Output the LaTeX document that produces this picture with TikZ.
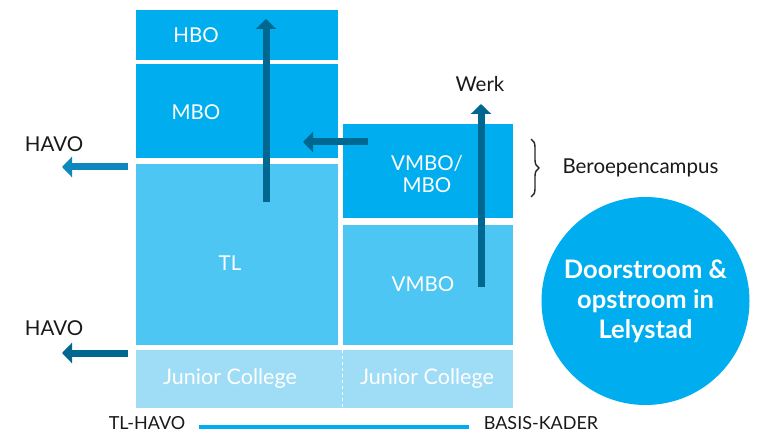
\documentclass[tikz,border=0pt]{standalone}
\usepackage{fontspec}
\setmainfont{Lato}
\usetikzlibrary{arrows.meta,
                 decorations.pathreplacing}
\definecolor{cyanbox}{HTML}{00AEEF}
\definecolor{lightbox}{HTML}{4DC6F3}
\definecolor{paleBox}{HTML}{9FDDF6}
\definecolor{darkarrow}{HTML}{006890}
\definecolor{midarrow}{HTML}{0E87BF}
\tikzset{blok/.style = {rectangle, inner sep=0pt, anchor=north west},
         flow/.style = {line width=7pt, -{Triangle[width=20pt,length=10pt]}},
         wit/.style = {text=white, font=\fontsize{20.5}{22}\selectfont},
         zwart/.style = {text=black!90, font=\fontsize{20.5}{22}\selectfont}}

\begin{document}
\begin{tikzpicture}[x=1pt,y=-1pt]
\useasboundingbox (0,0) rectangle (758,433);
\node [blok, fill=cyanbox, minimum width=202pt, minimum height=50pt] (hbo) at (136,10) {};
\node [blok, fill=cyanbox, minimum width=202pt, minimum height=94pt] (mbo) at (136,64) {};
\node [blok, fill=lightbox, minimum width=202pt, minimum height=181pt] (tl) at (136,164) {};
\node [blok, fill=cyanbox, minimum width=170pt, minimum height=94pt] (vmbombo) at (343,124) {};
\node [blok, fill=lightbox, minimum width=170pt, minimum height=120pt] (vmbo) at (343,225) {};
\node [blok, fill=paleBox, minimum width=377pt, minimum height=58pt] (jc) at (136,350) {};
\coordinate (jcdiv) at (342,350);
\draw [white, dashed, line width=0.8pt] (jcdiv) -- (jcdiv |- jc.south);
\node [wit] (thbo) at (196,35) {HBO};
\node [wit] (tmbo) at (196,112) {MBO};
\node [wit] (ttl) at (230,263) {TL};
\node [wit, align=center] (tvmbombo) at (427,174) {VMBO/\\MBO};
\node [wit] (tvmbo) at (423,284) {VMBO};
\node [wit, font=\fontsize{21.5}{22}\selectfont] (tjc1) at (230,379) {Junior College};
\node [wit, font=\fontsize{21.5}{22}\selectfont] (tjc2) at (427,379) {Junior College};
% pijlen
\coordinate (tlbot) at (266,202);
\coordinate (hbotop) at (266,19);
\draw [flow, darkarrow] (tlbot) -- (hbotop);
\coordinate (vmbobot) at (481,287);
\coordinate (werkpunt) at (481,104);
\draw [flow, darkarrow] (vmbobot) -- (werkpunt);
\coordinate (campus) at (368,142);
\coordinate (mbopunt) at (303,142);
\draw [flow, darkarrow] (campus) -- (mbopunt);
\coordinate (havo1start) at (128,167);
\coordinate (havo1eind) at (62,167);
\draw [flow, midarrow] (havo1start) -- (havo1eind);
\coordinate (havo2start) at (128,353);
\coordinate (havo2eind) at (62,353);
\draw [flow, darkarrow] (havo2start) -- (havo2eind);
\node [zwart] (havo1) at (54,144) {HAVO};
\node [zwart] (havo2) at (54,328) {HAVO};
\node [zwart] (werk) at (480,84) {Werk};
% accolade
\draw [decorate, decoration={brace, amplitude=8pt}, line width=1.4pt, black!85] (531,139) -- (531,197);
\node [zwart, anchor=west] (campustekst) at (559,168) {Beroepencampus};
% cirkel
\node [circle, fill=cyanbox, minimum size=208pt, inner sep=0pt, text=white, align=center,
       font=\fontsize{25.5}{30}\selectfont\bfseries] (cirkel) at (645.5,301) {Doorstroom \&\\opstroom in\\Lelystad};
% as onderaan
\node [zwart, font=\fontsize{18}{20}\selectfont, anchor=base, inner sep=0pt] (tlhavo) at (147,429) {TL-HAVO};
\node [zwart, font=\fontsize{18}{20}\selectfont, anchor=base, inner sep=0pt] (basiskader) at (541,429) {BASIS-KADER};
\coordinate (aslinks) at (199,427);
\coordinate (asrechts) at (469,427);
\draw [cyanbox, line width=4pt] (aslinks) -- (asrechts);
\end{tikzpicture}
\end{document}
